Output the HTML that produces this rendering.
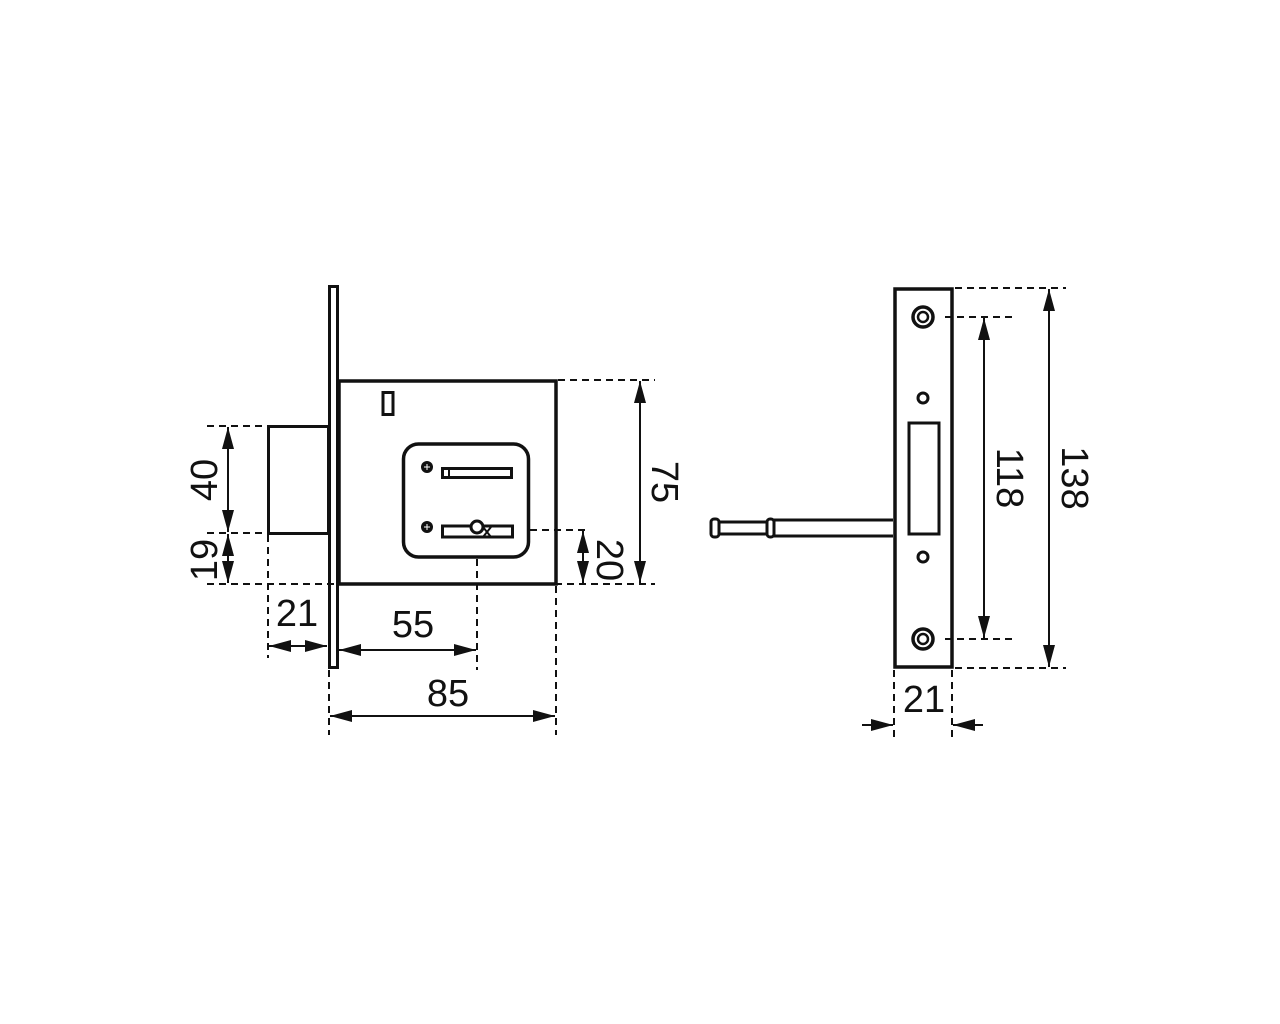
<!DOCTYPE html>
<html><head><meta charset="utf-8"><style>
html,body{margin:0;padding:0;background:#fff;}
svg{display:block;}
text{font-family:"Liberation Sans Narrow","Liberation Sans",sans-serif;font-size:38px;fill:#111;}
</style></head><body>
<svg width="1280" height="1024" viewBox="0 0 1280 1024" xmlns="http://www.w3.org/2000/svg">
<defs>
<marker id="a" viewBox="0 0 22 12" refX="22" refY="6" markerWidth="22" markerHeight="12" markerUnits="userSpaceOnUse" orient="auto"><path d="M0,0 L22,6 L0,12 Z" fill="#111"/></marker>
</defs>
<g stroke="#111" fill="none">
<!-- left lock -->
<rect x="329.5" y="286.5" width="8" height="381" stroke-width="3" fill="#fff"/>
<rect x="339" y="381" width="217" height="203" stroke-width="3.5"/>
<rect x="268.5" y="426.5" width="60" height="107" stroke-width="3"/>
<rect x="383" y="392.5" width="10" height="22" stroke-width="3"/>
<rect x="403.5" y="444" width="125" height="113" rx="15" stroke-width="3.5"/>
<circle cx="427" cy="467" r="6" fill="#111" stroke="none"/>
<path d="M424,467 H430 M427,464 V470" stroke="#fff" stroke-width="1"/>
<circle cx="427" cy="527" r="6" fill="#111" stroke="none"/>
<path d="M424,527 H430 M427,524 V530" stroke="#fff" stroke-width="1"/>
<rect x="442.5" y="468.5" width="69" height="9" stroke-width="3"/>
<line x1="449" y1="468" x2="449" y2="478" stroke-width="2"/>
<rect x="442.5" y="526" width="70" height="11" stroke-width="3"/>
<circle cx="477" cy="527" r="6" stroke-width="3" fill="#fff"/>
<path d="M483,527 L491,537 M483,537 L491,527" stroke-width="2"/>
<!-- dashed extension lines -->
<g stroke-width="2" stroke-dasharray="7,5">
<line x1="207" y1="426" x2="266" y2="426"/>
<line x1="207" y1="533" x2="266" y2="533"/>
<line x1="207" y1="584" x2="655" y2="584"/>
<line x1="558" y1="380" x2="655" y2="380"/>
<line x1="530" y1="530" x2="588" y2="530"/>
<line x1="268" y1="535" x2="268" y2="658"/>
<line x1="477" y1="559" x2="477" y2="670"/>
<line x1="329" y1="670" x2="329" y2="735"/>
<line x1="556" y1="586" x2="556" y2="735"/>
</g>
<g stroke-width="2">
<line x1="228" y1="480" x2="228" y2="427" marker-end="url(#a)"/>
<line x1="228" y1="480" x2="228" y2="532" marker-end="url(#a)"/>
<line x1="228" y1="558" x2="228" y2="534" marker-end="url(#a)"/>
<line x1="228" y1="558" x2="228" y2="583" marker-end="url(#a)"/>
<line x1="640" y1="482" x2="640" y2="381" marker-end="url(#a)"/>
<line x1="640" y1="482" x2="640" y2="583" marker-end="url(#a)"/>
<line x1="583" y1="557" x2="583" y2="531" marker-end="url(#a)"/>
<line x1="583" y1="557" x2="583" y2="583" marker-end="url(#a)"/>
<line x1="298" y1="646" x2="269" y2="646" marker-end="url(#a)"/>
<line x1="298" y1="646" x2="327" y2="646" marker-end="url(#a)"/>
<line x1="408" y1="650" x2="339" y2="650" marker-end="url(#a)"/>
<line x1="408" y1="650" x2="476" y2="650" marker-end="url(#a)"/>
<line x1="443" y1="716" x2="330" y2="716" marker-end="url(#a)"/>
<line x1="443" y1="716" x2="555" y2="716" marker-end="url(#a)"/>
</g>
<!-- right strike plate -->
<rect x="895" y="289" width="57" height="378" stroke-width="3.5"/>
<circle cx="923" cy="317" r="10" stroke-width="3.5"/>
<circle cx="923" cy="317" r="5" stroke-width="2.5"/>
<circle cx="923" cy="639" r="10" stroke-width="3.5"/>
<circle cx="923" cy="639" r="5" stroke-width="2.5"/>
<circle cx="923" cy="398" r="5" stroke-width="3"/>
<circle cx="923" cy="557" r="5" stroke-width="3"/>
<rect x="909" y="423" width="30" height="111" stroke-width="3"/>
<path d="M893,520 H774 V536 H893" stroke-width="3"/>
<rect x="767" y="519" width="7" height="18" rx="3" stroke-width="3"/>
<path d="M767,522 H719 M767,534 H719" stroke-width="3"/>
<rect x="711" y="519" width="8" height="18" rx="3" stroke-width="3"/>
<g stroke-width="2" stroke-dasharray="7,5">
<line x1="955" y1="288" x2="1066" y2="288"/>
<line x1="955" y1="668" x2="1066" y2="668"/>
<line x1="945" y1="317" x2="1013" y2="317"/>
<line x1="945" y1="639" x2="1013" y2="639"/>
<line x1="894" y1="670" x2="894" y2="740"/>
<line x1="952" y1="670" x2="952" y2="740"/>
</g>
<g stroke-width="2">
<line x1="984" y1="478" x2="984" y2="318" marker-end="url(#a)"/>
<line x1="984" y1="478" x2="984" y2="638" marker-end="url(#a)"/>
<line x1="1049" y1="478" x2="1049" y2="289" marker-end="url(#a)"/>
<line x1="1049" y1="478" x2="1049" y2="667" marker-end="url(#a)"/>
<line x1="862" y1="725" x2="893" y2="725" marker-end="url(#a)"/>
<line x1="983" y1="725" x2="953" y2="725" marker-end="url(#a)"/>
</g>
</g>
<g text-anchor="middle">
<text x="297" y="626">21</text>
<text x="413" y="637">55</text>
<text x="448" y="706">85</text>
<text x="924" y="712">21</text>
<text transform="translate(217,480) rotate(-90)">40</text>
<text transform="translate(217,560) rotate(-90)">19</text>
<text transform="translate(652,482) rotate(90)">75</text>
<text transform="translate(597,560) rotate(90)">20</text>
<text transform="translate(997,478) rotate(90)">118</text>
<text transform="translate(1062,478) rotate(90)">138</text>
</g>
</svg>
</body></html>
